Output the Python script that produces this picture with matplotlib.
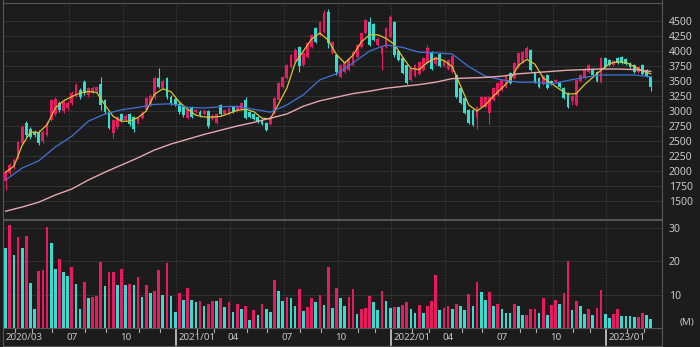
import numpy as np
import pandas as pd
import matplotlib
matplotlib.use("Agg")
import matplotlib.pyplot as plt
from matplotlib.transforms import blended_transform_factory
from matplotlib.lines import Line2D

# ---------------- data (weekly) ----------------
start_date = "2020-03-16"

opens = [1830, 1970, 2060, 2230, 2470, 2800, 2700, 2650, 2650, 2500,
         2600, 2850, 2950, 3130, 3000, 3050, 3130, 3270, 3350, 3480,
         3270, 3300, 3330, 3450, 3180, 2980, 2630, 2730, 2950, 2850,
         2950, 2900, 2800, 2880, 3020, 3100, 3230, 3550, 3380, 3550,
         3230, 3200, 3120, 3070, 2880, 3070, 2980, 2990, 2950, 3000,
         2870, 2800, 3100, 2950, 2960, 3070, 3000, 3030, 3180, 2980,
         2950, 2900, 2850, 2800, 2780, 2970, 3180, 3400, 3550, 3730,
         3820, 4070, 3770, 3900, 4070, 4380, 4270, 4320, 4650, 3970,
         3930, 3570, 3650, 3680, 3770, 3900, 4070, 4300, 4480, 4450,
         4100, 3950, 4070, 4230, 4480, 4000, 3880, 3770, 3520, 3580,
         3620, 3680, 3800, 3980, 3780, 3950, 3750, 3700, 3650, 3600,
         3380, 3220, 3020, 3020, 2880, 3070, 3070, 2970, 3180, 3270,
         3350, 3400, 3630, 3550, 3730, 3820, 3880, 4020, 3630, 3550,
         3450, 3600, 3500, 3480, 3470, 3380, 3300, 3170, 3100, 3500,
         3550, 3650, 3700, 3650, 3480, 3880, 3850, 3770, 3880, 3900,
         3870, 3800, 3770, 3650, 3770, 3680, 3570]
closes = [1980, 2100, 2180, 2480, 2730, 2600, 2570, 2600, 2470, 2650,
          2800, 3180, 3200, 3020, 3150, 3130, 3300, 3430, 3230, 3300,
          3380, 3380, 3400, 3100, 2980, 2720, 2850, 2900, 2850, 2920,
          2780, 2700, 2900, 2970, 3220, 3250, 3550, 3400, 3500, 3230,
          3130, 3100, 2980, 2930, 3030, 2900, 3010, 2930, 3000, 2750,
          2920, 2950, 2950, 3020, 3050, 2980, 3070, 3130, 2880, 2900,
          2870, 2820, 2780, 2680, 2900, 3220, 3470, 3570, 3770, 3930,
          4020, 3750, 3970, 4130, 4270, 4150, 4480, 4630, 4130, 4150,
          3650, 3770, 3820, 3870, 3980, 4100, 4300, 4520, 4100, 4180,
          4200, 4070, 4380, 4570, 3930, 3850, 3630, 3470, 3700, 3770,
          3820, 3880, 4050, 3700, 3900, 3750, 3850, 3850, 3920, 3230,
          3130, 2970, 2800, 2770, 3070, 3230, 3230, 3230, 3380, 3470,
          3520, 3580, 3470, 3800, 3970, 3980, 4050, 3680, 3480, 3400,
          3580, 3380, 3450, 3520, 3400, 3220, 3070, 3250, 3520, 3600,
          3700, 3770, 3600, 3500, 3880, 3730, 3770, 3830, 3800, 3800,
          3780, 3730, 3650, 3730, 3620, 3580, 3400]
highs = [2010, 2130, 2220, 2500, 2760, 2830, 2730, 2680, 2680, 2680,
         2830, 3200, 3230, 3160, 3180, 3160, 3330, 3460, 3380, 3510,
         3400, 3410, 3420, 3570, 3200, 3000, 2870, 2920, 2970, 2950,
         2970, 2920, 2920, 3000, 3240, 3280, 3580, 3720, 3530, 3570,
         3260, 3220, 3150, 3090, 3050, 3090, 3040, 3010, 3030, 3020,
         2950, 2970, 3120, 3040, 3070, 3090, 3090, 3150, 3230, 3000,
         2970, 2920, 2870, 2820, 2920, 3240, 3490, 3590, 3790, 3950,
         4050, 4090, 3990, 4150, 4290, 4400, 4500, 4680, 4700, 4170,
         3950, 3790, 3840, 3890, 4000, 4120, 4320, 4540, 4570, 4470,
         4230, 4100, 4400, 4600, 4500, 4020, 3900, 3790, 3720, 3790,
         3840, 3900, 4100, 4000, 3920, 3970, 3870, 3870, 3940, 3620,
         3400, 3240, 3040, 3040, 3090, 3250, 3250, 3250, 3400, 3490,
         3540, 3600, 3650, 3820, 3990, 4000, 4080, 4040, 3650, 3570,
         3600, 3620, 3520, 3540, 3490, 3400, 3320, 3270, 3540, 3620,
         3720, 3790, 3720, 3670, 3900, 3900, 3870, 3850, 3900, 3920,
         3890, 3820, 3790, 3750, 3790, 3700, 3590]
lows = [1680, 1940, 2030, 2200, 2440, 2570, 2540, 2560, 2440, 2470,
        2580, 2830, 2920, 2990, 2970, 3020, 3100, 3240, 3200, 3270,
        3240, 3280, 3300, 3020, 2950, 2700, 2550, 2700, 2820, 2830,
        2750, 2650, 2780, 2860, 3000, 3080, 3200, 3380, 3360, 3200,
        3100, 3080, 2950, 2900, 2860, 2880, 2960, 2900, 2930, 2720,
        2850, 2780, 2930, 2930, 2940, 2960, 2980, 3010, 2860, 2880,
        2850, 2800, 2760, 2660, 2760, 2950, 3160, 3380, 3530, 3710,
        3800, 3650, 3750, 3880, 4050, 4130, 4250, 4300, 4050, 3950,
        3600, 3550, 3630, 3660, 3750, 3880, 4050, 4280, 4080, 4160,
        4080, 3680, 4050, 4210, 3900, 3830, 3610, 3450, 3500, 3560,
        3600, 3660, 3780, 3680, 3760, 3730, 3730, 3680, 3630, 3210,
        3110, 2950, 2780, 2750, 2700, 3050, 3050, 2780, 3160, 3250,
        3330, 3380, 3450, 3530, 3710, 3800, 3860, 3660, 3460, 3380,
        3430, 3360, 3430, 3460, 3380, 3200, 3050, 3100, 3080, 3480,
        3530, 3630, 3580, 3480, 3460, 3710, 3750, 3750, 3780, 3780,
        3760, 3710, 3630, 3630, 3600, 3560, 3330]

volumes = [24, 31, 22, 27.4, 24, 27.7, 13.4, 5.8, 17, 17.4,
           30.2, 25.5, 17.6, 20.7, 16.7, 15.6, 18.4, 13.2, 5.8, 13.7,
           8.9, 9.4, 9.6, 19.7, 12.7, 16.7, 16.9, 12.9, 17.6, 12.9,
           13.1, 12.9, 15.4, 9.4, 12.9, 10.4, 11.1, 17.3, 9.9, 19.4,
           9.6, 4.7, 10.4, 8.3, 11.9, 8.3, 7.7, 8.2, 6.6, 7.2,
           8.2, 8, 9.1, 6.2, 7.7, 4.8, 7.2, 5.8, 6.6, 2.5,
           5.4, 3.8, 7.2, 5.6, 4.9, 14.3, 11.2, 8.2, 9.4, 9.1,
           6.6, 11.6, 5.1, 6.2, 8.9, 7.7, 9.9, 6.8, 18.4, 6,
           12.1, 8.9, 6.6, 9.4,
           11.7, 4.3, 5.6, 6, 9.6, 7.9, 5.5, 11.1, 8.2, 6,
           6.2, 6.2, 6.8, 7.7, 5.8, 4.6, 6.8, 4.4, 6.6, 8.2,
           15.9, 5.5, 6.1, 6.5, 5.8, 7.1, 6.6, 5.4, 10.3, 6.6,
           13.7, 10.9, 8.3, 10.9, 6.5, 7.3, 5.8, 4.6, 4.6, 7.1,
           6.6, 3.8, 4, 5.6, 5.8, 4.6, 8.9, 3.8, 6.8, 8.5,
           7.3, 10.4, 20.2, 5.5, 8.2, 6.6, 4.2, 5.6, 4, 6,
           11.5, 4.1, 3, 4.1, 5.8, 3.7, 3.5, 3.5, 3.3, 3.2,
           4.5, 3.9, 2.8]
vol_colors = ("cpcpcpccpp" "pccpccpccp" "cpppcppcpc" "pcpcpcppcp" "ccpcpccpcp"
              "pcpcpcpcpc" "pcpccpccpc" "cpcppcpcpc" "pccp"
              "pcpppccpcc" "pcppccpcpp" "pcppcpccpc" "pccpcpcccp" "ccpppcpcpp"
              "cppcpccpcp" "pccppccccp" "pcc")

# moving averages (yellow every 2 bars, blue/pink every 4 bars)
ma_short = [1980, 2080, 2430, 2650, 2640, 2770, 3050, 3170, 3240, 3300,
            3325, 3310, 3100, 2910, 2830, 2830, 2890, 3000, 3280, 3370,
            3320, 3150, 3030, 2930, 2900, 2900, 2910, 2960, 3010, 3030,
            2990, 2880, 2870, 3120, 3380, 3800, 4000, 4200, 4300, 4180,
            3940, 3800, 3930, 4150, 4270, 4270, 4210, 4110, 3900, 3710,
            3690, 3810, 3880, 3840, 3740, 3420, 3100, 3000, 3100, 3250,
            3380, 3520, 3760, 3860, 3780, 3550, 3460, 3360, 3280, 3290,
            3440, 3560, 3680, 3790, 3820, 3810, 3740, 3670, 3620]
ma_mid = [1850, 2050, 2170, 2400, 2580, 2830, 2950, 3020, 3060, 3110,
          3120, 3060, 3050, 3070, 3080, 3030, 2980, 3100, 3270, 3520,
          3620, 3800, 4000, 4100, 4060, 3980, 3970, 3950, 3740, 3580,
          3520, 3480, 3480, 3450, 3510, 3560, 3600, 3600, 3600, 3570]
ma_long = [1330, 1400, 1480, 1600, 1700, 1850, 1980, 2100, 2220, 2350,
           2450, 2530, 2610, 2680, 2750, 2810, 2880, 2950, 3080, 3170,
           3230, 3290, 3330, 3380, 3410, 3440, 3480, 3540, 3550, 3560,
           3580, 3620, 3640, 3660, 3680, 3690, 3700, 3700, 3690, 3660]

price_ticks = list(range(1500, 4501, 250))
vol_ticks = [10, 20, 30]

# ---------------- style ----------------
BG = "#1c1c1c"
UP = "#ea1a60"
DN = "#35ddd0"
GRID = "#363636"
FRAME = "#555555"
TXT = "#c8c8c8"
FONT = "Noto Sans"

W, H = 700, 347
fig = plt.figure(figsize=(W / 100, H / 100), dpi=100, facecolor=BG)

def px_axes(x0, y0, x1, y1):
    return fig.add_axes([x0 / W, 1 - y1 / H, (x1 - x0) / W, (y1 - y0) / H])

ax_p = px_axes(3, 3, 662, 219)
ax_v = px_axes(3, 220, 662, 328)

n = len(closes)
x = np.arange(n)
dates = pd.date_range(start_date, periods=n, freq="7D")
o = np.array(opens); c = np.array(closes); hi = np.array(highs); lo = np.array(lows)
up = c >= o

px_per_unit = 15.0 / 250.0
ax_p.set_ylim(4500 - (219 - 21) / px_per_unit, 4500 + (21 - 3) / px_per_unit)
ax_v.set_ylim(0, 32.4)
xl = (-0.65, n - 1 + (662 - 650.7) / 4.135)
for ax in (ax_p, ax_v):
    ax.set_facecolor(BG)
    ax.set_xlim(*xl)
    for s in ax.spines.values():
        s.set_color(FRAME)
        s.set_linewidth(0.8)
    ax.yaxis.tick_right()
    ax.tick_params(axis="y", length=0, pad=5, labelsize=7.5, labelcolor=TXT)
    ax.tick_params(axis="x", length=0, labelbottom=False)
    ax.set_axisbelow(True)

ax_p.set_yticks(price_ticks)
ax_p.set_yticklabels([str(t) for t in price_ticks], fontfamily=FONT)
ax_v.set_yticks(vol_ticks)
ax_v.set_yticklabels([str(t) for t in vol_ticks], fontfamily=FONT)
for t in price_ticks:
    ax_p.axhline(t, color=GRID, lw=0.6, zorder=0)
for t in vol_ticks:
    ax_v.axhline(t, color=GRID, lw=0.6, zorder=0)

# month structure
month_first = [i for i in range(n) if i == 0 or dates[i].month != dates[i - 1].month]
def week_containing_first(i):
    d = dates[i]
    return i - 1 if d.day > 1 and i > 0 else i

tr = blended_transform_factory(ax_v.transData, fig.transFigure)
label_y = 1 - 337 / H
for i in month_first:
    d = dates[i]
    if i == 0:
        ax_v.text(i + 0.05, label_y, f"{d.year}/{d.month:02d}", transform=tr, ha="left",
                  va="center", fontsize=7, color=TXT, fontfamily=FONT, clip_on=False)
        continue
    g = week_containing_first(i) + 0.3
    if i < 10:
        # too close to the first label: only a month tick
        fig.add_artist(Line2D([g, g], [1 - 329 / H, 1 - 331.5 / H], transform=tr,
                              color="#aaaaaa", lw=0.8))
        continue
    if d.month in (1, 4, 7, 10):
        for ax in (ax_p, ax_v):
            ax.axvline(g, color="#3c3c3c", lw=0.7, ls=(0, (1.5, 1.5)), zorder=0)
    if d.month == 1:
        ax_v.text(i - 0.1, label_y, f"{d.year}/01", transform=tr, ha="left", va="center",
                  fontsize=7, color=TXT, fontfamily=FONT, clip_on=False)
        fig.add_artist(Line2D([g, g], [1 - 330 / H, 1 - 345 / H], transform=tr,
                              color="#d0d0d0", lw=1.2))
    elif d.month in (4, 7, 10):
        ax_v.text(i, label_y, f"{d.month:02d}", transform=tr, ha="center", va="center",
                  fontsize=7, color=TXT, fontfamily=FONT, clip_on=False)
    else:
        fig.add_artist(Line2D([g, g], [1 - 329 / H, 1 - 331.5 / H], transform=tr,
                              color="#aaaaaa", lw=0.8))

# frame lines outside the axes
fig.add_artist(Line2D([662 / W, 662 / W], [0, 1], color=FRAME, lw=0.8))
fig.add_artist(Line2D([3 / W, 3 / W], [1 - 345 / H, 1], color=FRAME, lw=0.8))
fig.add_artist(Line2D([3 / W, 662 / W], [1 - 345.5 / H, 1 - 345.5 / H], color=FRAME, lw=0.8))
fig.text(680 / W, 1 - 322 / H, "(M)", fontsize=7, color=TXT, va="center", ha="left", fontfamily=FONT)

# candles
cols = np.where(up, UP, DN)
ax_p.vlines(x, lo, hi, colors=cols, lw=0.8, zorder=2)
body_lo = np.minimum(o, c)
body_h = np.maximum(np.abs(c - o), 12)
ax_p.bar(x, body_h, bottom=body_lo, width=0.68, color=cols, linewidth=0, zorder=3)

# moving averages
ax_p.plot(np.arange(0, n, 2), ma_short, color="#d8c62e", lw=0.9, zorder=4)
ax_p.plot(np.arange(0, n, 4), ma_mid, color="#3f73d8", lw=0.9, zorder=4)
ax_p.plot(np.arange(0, n, 4), ma_long, color="#e6a6ae", lw=1.0, zorder=4)

# volume
vcols = [UP if ch == "p" else DN for ch in vol_colors]
ax_v.bar(x, volumes, width=0.65, color=vcols, linewidth=0, zorder=3)

fig.savefig("out.png", dpi=100, facecolor=BG)
